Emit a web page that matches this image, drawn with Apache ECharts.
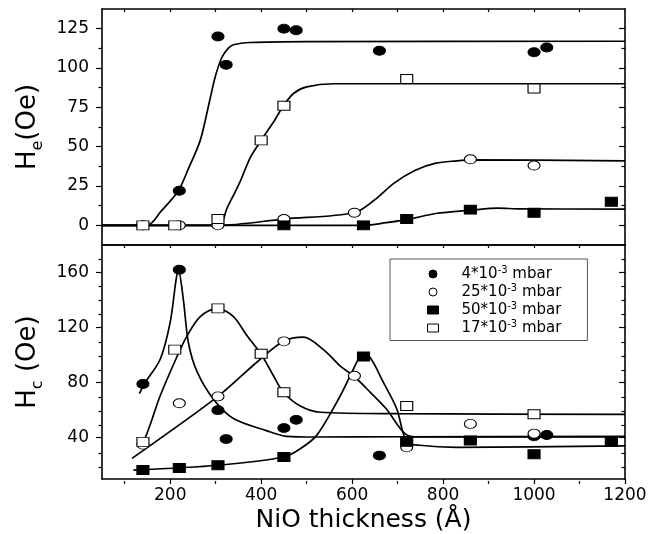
<!DOCTYPE html>
<html><head><meta charset="utf-8">
<script src="https://cdn.jsdelivr.net/npm/echarts@6/dist/echarts.min.js"></script>
<style>html,body{margin:0;padding:0;background:#fff}#c{width:650px;height:534px}</style>
</head><body><div id="c"></div>
<script>
// ---- axis ranges and ticks ----
const xRange = [50, 1200];
const heRange = [-12.5, 137.5];
const hcRange = [10, 180];
const xMajorTicks = [200, 400, 600, 800, 1000, 1200];
const xMinorTicks = [100, 300, 500, 700, 900, 1100];
const xAllTicks = [100, 200, 300, 400, 500, 600, 700, 800, 900, 1000, 1100];
const heMajorTicks = [0, 25, 50, 75, 100, 125];
const heMinorTicks = [12.5, 37.5, 62.5, 87.5, 112.5];
const hcMajorTicks = [40, 80, 120, 160];
const hcMinorTicks = [20, 30, 50, 60, 70, 90, 100, 110, 130, 140, 150, 170];

// ---- legend ----
const seriesKeys = ['p4', 'p25', 'p50', 'p17'];
const legendBase = {p4: '4*10', p25: '25*10', p50: '50*10', p17: '17*10'};
const legendExp = '-3';
const legendUnit = ' mbar';

// ---- He (top panel) measured points ----
const heP4 = [[140,0],[220,22],[305,120],[323,102],[450,125],[477,124],[660,111],[1000,110],[1028,113]];
const heP25 = [[140,0],[220,0],[305,0],[450,4],[605,8],[860,42],[1000,38]];
const heP50 = [[450,0],[625,0],[720,4],[860,10],[1000,8],[1170,15]];
const heP17 = [[140,0],[210,0],[305,4],[400,54],[450,76],[720,93],[1000,87]];
// ---- He fitted curves ----
const heF4 = [[50,0],[149,0],[180,9],[218,22],[240,36],[266,54],[285,77],[299,94.5],[314,107],[328,112.6],[339,114.8],[376,116.2],[500,116.8],[1200,117]];
const heF25 = [[50,0],[305,0],[450,4],[605,8],[647,15.6],[693,27],[739,35],[784,39.5],[830,41],[861,41.6],[1200,41]];
const heF50 = [[50,0],[627,0],[675,1.7],[724,3.8],[784,7.5],[861,9.6],[921,10.9],[967,10.5],[1200,10.3]];
const heF17 = [[50,0],[306,0],[325,11],[354,28],[376,43],[400,54],[430,67],[449,76],[471,83.8],[500,88],[559,90],[1200,90]];

// ---- Hc (bottom panel) measured points ----
const hcP4 = [[140,79],[220,162],[305,60],[323,39],[450,47],[477,53],[660,27],[1000,41],[1028,42]];
const hcP25 = [[140,35],[220,65],[305,70],[450,110],[605,85],[720,33],[860,50],[1000,43]];
const hcP50 = [[140,16.5],[220,18],[305,20],[450,26],[625,99],[720,37],[860,38],[1000,28],[1170,37]];
const hcP17 = [[140,37],[210,104],[305,134],[400,101],[450,73],[720,63],[1000,57]];
// ---- Hc fitted curves ----
const hcF4 = [[132,72],[145,80],[178,97],[200,124],[213,155],[218,162],[229,140],[240,109],[259,88],[295,68],[339,54],[413,45],[456,41],[522,40.5],[700,40.7],[1200,41]];
const hcF25 = [[116,25],[305,70],[391,95],[449,110],[493,113],[537,104],[574,92],[603,85],[640,73],[675,61],[716,43],[745,40.5],[1200,40.5]];
const hcF50 = [[119,16.5],[305,20],[450,26],[486,32],[522,41.7],[574,70.5],[603,90],[614,97],[626,99.5],[640,98],[669,80],[698,61],[720,37],[748,34.5],[830,33],[1200,34]];
const hcF17 = [[127,35.7],[141,37],[178,70.5],[215,99],[237,114],[266,128],[303,134],[339,128],[369,114],[400,100.6],[427,85],[449,73],[486,63],[530,58.5],[700,57.5],[1200,57]];

const FONT = 'DejaVu Sans';
const BLACK = '#000';

const markerStyle = {
  p4: {symbol: 'circle', itemStyle: {color: '#000', borderColor: '#000', borderWidth: 1, opacity: 1}},
  p25: {symbol: 'circle', itemStyle: {color: '#fff', borderColor: '#000', borderWidth: 1, opacity: 1}},
  p50: {symbol: 'rect', itemStyle: {color: '#000', borderColor: '#000', borderWidth: 1, opacity: 1}},
  p17: {symbol: 'rect', itemStyle: {color: '#fff', borderColor: '#000', borderWidth: 1, opacity: 1}}
};

function xAxisDef(grid, pos, o) {
  return {
    type: 'value', gridIndex: grid, position: pos, min: xRange[0], max: xRange[1],
    axisLine: {show: !!o.line, onZero: false, lineStyle: {color: BLACK, width: 1.6}},
    axisTick: {show: !!o.ticks, inside: !!o.inside, length: o.len || 4, customValues: o.ticks || [], lineStyle: {color: BLACK, width: 1.2}},
    axisLabel: {show: !!o.labels, customValues: o.labels || [], margin: 8, color: BLACK, fontSize: 17, fontFamily: FONT,
      formatter: v => String(v)},
    splitLine: {show: false},
    name: o.name || '', nameLocation: 'middle', nameGap: o.nameGap || 0,
    nameTextStyle: o.nameStyle || {}
  };
}
function yAxisDef(grid, pos, range, o) {
  return {
    type: 'value', gridIndex: grid, position: pos, min: range[0], max: range[1],
    axisLine: {show: !!o.line, onZero: false, lineStyle: {color: BLACK, width: 1.6}},
    axisTick: {show: !!o.ticks, inside: !!o.inside, length: o.len || 4, customValues: o.ticks || [], lineStyle: {color: BLACK, width: 1.2}},
    axisLabel: {show: !!o.labels, customValues: o.labels || [], margin: 13, color: BLACK, fontSize: 17, fontFamily: FONT,
      formatter: v => String(v)},
    splitLine: {show: false},
    name: o.name || '', nameLocation: 'middle', nameGap: o.nameGap || 0, nameRotate: 90,
    nameTextStyle: o.nameStyle || {}
  };
}

const nameRich = {
  h: {fontSize: 26, fontFamily: FONT, color: BLACK, lineHeight: 34},
  sub: {fontSize: 16, fontFamily: FONT, color: BLACK, verticalAlign: 'bottom', lineHeight: 14}
};

const grids = [
  {left: 102, right: 25, top: 9, height: 236},
  {left: 102, right: 25, top: 245, height: 236},
  {left: 102, right: 25, top: 9, height: 236},
  {left: 102, right: 25, top: 245, height: 236}
];

const xAxes = [
  xAxisDef(0, 'bottom', {line: true}),
  xAxisDef(0, 'top', {line: true, ticks: xAllTicks, inside: true, len: 3}),
  xAxisDef(1, 'bottom', {line: true, ticks: xMajorTicks, len: 5, labels: xMajorTicks,
    name: 'NiO thickness (Å)', nameGap: 29, nameStyle: {fontSize: 25, fontFamily: FONT, color: BLACK}}),
  xAxisDef(1, 'top', {line: true, ticks: xAllTicks, inside: true, len: 3}),
  xAxisDef(2, 'bottom', {}),
  xAxisDef(3, 'bottom', {ticks: xMinorTicks, len: 3})
];
const yAxes = [
  yAxisDef(0, 'left', heRange, {line: true, ticks: heMajorTicks, len: 6, labels: heMajorTicks,
    name: '{h|H}{sub|e}{h|(Oe)}', nameGap: 50, nameStyle: {rich: nameRich}}),
  yAxisDef(0, 'right', heRange, {line: true, ticks: heMajorTicks, inside: true, len: 6}),
  yAxisDef(1, 'left', hcRange, {line: true, ticks: hcMajorTicks, len: 6, labels: hcMajorTicks,
    name: '{h|H}{sub|c}{h| (Oe)}', nameGap: 50, nameStyle: {rich: nameRich}}),
  yAxisDef(1, 'right', hcRange, {line: true, ticks: hcMajorTicks, inside: true, len: 6}),
  yAxisDef(2, 'left', heRange, {ticks: heMinorTicks, len: 3.5}),
  yAxisDef(2, 'right', heRange, {ticks: heMinorTicks, inside: true, len: 3.5}),
  yAxisDef(3, 'left', hcRange, {ticks: hcMinorTicks, len: 3.5}),
  yAxisDef(3, 'right', hcRange, {ticks: hcMinorTicks, inside: true, len: 3.5})
];

function curve(data, xi, yi) {
  return {type: 'line', xAxisIndex: xi, yAxisIndex: yi, data: data, showSymbol: false, symbol: 'none',
    smooth: 0.3, lineStyle: {color: BLACK, width: 1.7}, z: 2, silent: true};
}
function points(key, data, xi, yi) {
  return {type: 'scatter', name: key, xAxisIndex: xi, yAxisIndex: yi, data: data,
    symbol: markerStyle[key].symbol, symbolSize: [12, 9], itemStyle: markerStyle[key].itemStyle, z: 3};
}

const series = [
  curve(heF4, 0, 0), curve(heF25, 0, 0), curve(heF50, 0, 0), curve(heF17, 0, 0),
  curve(hcF4, 2, 2), curve(hcF25, 2, 2), curve(hcF50, 2, 2), curve(hcF17, 2, 2),
  points('p4', heP4, 0, 0), points('p25', heP25, 0, 0), points('p50', heP50, 0, 0), points('p17', heP17, 0, 0),
  points('p4', hcP4, 2, 2), points('p25', hcP25, 2, 2), points('p50', hcP50, 2, 2), points('p17', hcP17, 2, 2)
];

const legend = {
  orient: 'vertical', left: 390, top: 259,
  padding: [6, 26, 5, 37], itemGap: 1.5, itemWidth: 11, itemHeight: 8,
  backgroundColor: '#fff', borderColor: '#555', borderWidth: 1,
  data: seriesKeys.map(k => ({name: k, icon: markerStyle[k].symbol,
    itemStyle: markerStyle[k].itemStyle})),
  formatter: name => '{g|}{t|' + legendBase[name] + '}{s|' + legendExp + '}{t|' + legendUnit + '}',
  textStyle: {color: BLACK, rich: {
    g: {width: 18},
    t: {fontSize: 15, fontFamily: FONT, color: BLACK, lineHeight: 18},
    s: {fontSize: 10, fontFamily: FONT, color: BLACK, verticalAlign: 'top', lineHeight: 10}
  }}
};

const chart = echarts.init(document.getElementById('c'), null, {renderer: 'canvas'});
chart.setOption({
  animation: false,
  backgroundColor: '#fff',
  grid: grids, xAxis: xAxes, yAxis: yAxes, legend: legend, series: series
});
</script></body></html>
